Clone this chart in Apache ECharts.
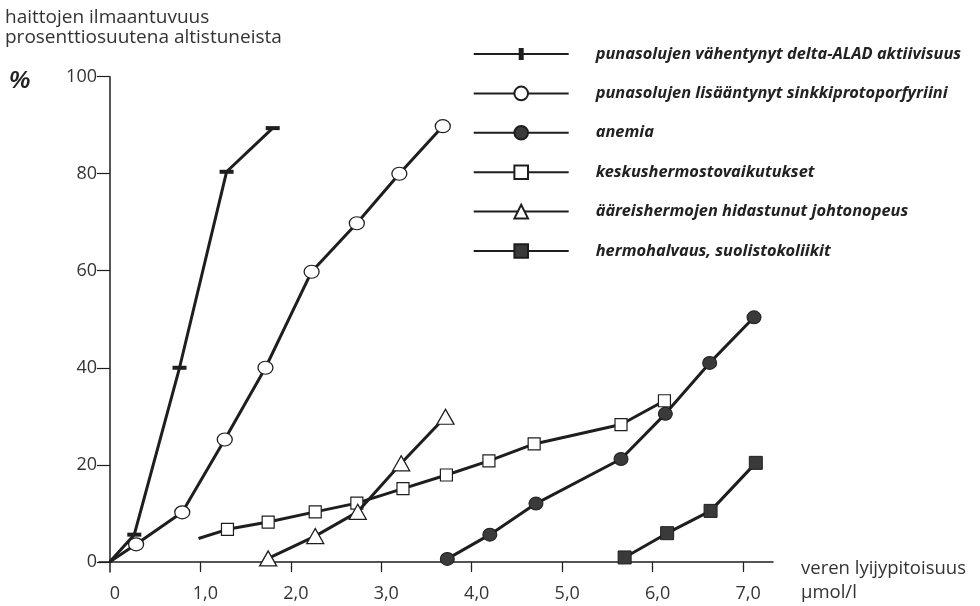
<!DOCTYPE html>
<html>
<head>
<meta charset="utf-8">
<script src="https://cdn.jsdelivr.net/npm/echarts@6/dist/echarts.min.js"></script>
<style>html,body{margin:0;padding:0;background:#fff}#c{width:980px;height:606px}</style>
</head>
<body>
<div id="c"></div>
<script>
// ---- data ----
const xTickValues = [0, 1, 2, 3, 4, 5, 6, 7];
const xTickLabels = ['0', '1,0', '2,0', '3,0', '4,0', '5,0', '6,0', '7,0'];
const yTickValues = [0, 20, 40, 60, 80, 100];
const yTickLabels = ['0', '20', '40', '60', '80', '100'];

const seriesNames = [
  'punasolujen vähentynyt delta-ALAD aktiivisuus',
  'punasolujen lisääntynyt sinkkiprotoporfyriini',
  'anemia',
  'keskushermostovaikutukset',
  'ääreishermojen hidastunut johtonopeus',
  'hermohalvaus, suolistokoliikit'
];
// [blood lead µmol/l, % affected]
const aladData = [[0, 0], [0.27, 5.6], [0.77, 40], [1.29, 80.4], [1.80, 89.4]];
const zppData = [[0, 0], [0.29, 3.6], [0.80, 10.2], [1.27, 25.2], [1.72, 40], [2.23, 59.8], [2.73, 69.8], [3.20, 80], [3.68, 89.8]];
const anemiaData = [[3.73, 0.6], [4.20, 5.6], [4.71, 12], [5.65, 21.2], [6.14, 30.5], [6.63, 41], [7.12, 50.4]];
const cnsData = [[0.98, 4.8], [1.30, 6.7], [1.75, 8.2], [2.27, 10.3], [2.73, 12.1], [3.24, 15.1], [3.72, 17.9], [4.19, 20.8], [4.69, 24.3], [5.65, 28.3], [6.13, 33.2]];
const peripheralData = [[1.75, 0.7], [2.27, 5.3], [2.74, 10.3], [3.22, 20.3], [3.71, 29.9]];
const paralysisData = [[5.69, 0.9], [6.16, 5.9], [6.64, 10.5], [7.14, 20.4]];
// first point drawn without a marker (line start only)
const unmarkedFirst = [true, true, false, true, false, false];

// ---- styles ----
const INK = '#1e1e1e';
const FILL_DARK = '#3a3a3a';
const tickFont = "'Open Sans', 'DejaVu Sans', sans-serif";

// pick a narrow bold-italic face for the legend whose size fits the reference width
function pickLegendFont() {
  const ctx = document.createElement('canvas').getContext('2d');
  const sample = seriesNames[0];
  const targetWidth = 366, targetSize = 18.5;
  const families = ["'Noto Sans'", "'Liberation Sans'", "'DejaVu Sans'"];
  const stretches = ['', 'semi-condensed ', 'condensed ', 'extra-condensed '];
  let best = null;
  families.forEach(f => stretches.forEach(s => {
    ctx.font = 'italic bold ' + s + '18px ' + f;
    const w = ctx.measureText(sample).width;
    const size = 18 * targetWidth / w;
    const score = Math.abs(size - targetSize);
    if (!best || score < best.score - 0.05) best = {family: f, stretch: s, size: size, score: score};
  }));
  return best;
}
const lf = pickLegendFont();

const allData = [aladData, zppData, anemiaData, cnsData, peripheralData, paralysisData];
const symbols = [
  {symbol: 'rect', size: [14, 4], fill: INK, bw: 0},
  {symbol: 'circle', size: [15, 13], fill: '#fff', bw: 1.2},
  {symbol: 'circle', size: [14, 13], fill: FILL_DARK, bw: 1},
  {symbol: 'rect', size: [12, 12], fill: '#fff', bw: 1.2},
  {symbol: 'triangle', size: [17, 15], fill: '#fff', bw: 1.3},
  {symbol: 'rect', size: [13, 13], fill: FILL_DARK, bw: 1}
];

function buildData(arr, skipFirst) {
  return arr.map((p, i) => (i === 0 && skipFirst) ? {value: p, symbol: 'none'} : {value: p});
}

const series = seriesNames.map((name, i) => ({
  name: name,
  type: 'line',
  xAxisIndex: 0,
  yAxisIndex: 0,
  data: buildData(allData[i], unmarkedFirst[i]),
  symbol: symbols[i].symbol,
  symbolSize: symbols[i].size,
  symbolKeepAspect: false,
  showSymbol: true,
  lineStyle: {color: INK, width: 3},
  itemStyle: {color: symbols[i].fill, borderColor: INK, borderWidth: symbols[i].bw},
  emphasis: {disabled: true},
  z: 2 + i,
  animation: false
}));

const legendData = seriesNames.map((name, i) => i === 0
  ? {name: name, icon: 'path://M0,7.5H95V9.5H0Z M45,2.5H50V14.5H45Z'}
  : {name: name});

const chart = echarts.init(document.getElementById('c'), null, {renderer: 'canvas'});
chart.setOption({
  animation: false,
  backgroundColor: '#fff',
  grid: {left: 99, right: 207, top: 76.7, bottom: 34, containLabel: false},
  xAxis: [{
    type: 'value', position: 'bottom', min: -0.12, max: 7.33,
    axisLine: {onZero: true, lineStyle: {color: INK, width: 1.5}},
    axisTick: {show: true, length: 7, customValues: xTickValues.slice(1), lineStyle: {color: INK, width: 1.2}},
    axisLabel: {
      customValues: xTickValues, margin: 13, color: '#333', fontSize: 18, fontFamily: tickFont,
      padding: [0, 0, 0, 10],
      formatter: v => { const k = xTickValues.indexOf(Math.round(v)); return k >= 0 ? xTickLabels[k] : ''; }
    },
    splitLine: {show: false}
  }, {
    type: 'value', position: 'bottom', min: -0.12, max: 7.33,
    axisLine: {show: false, onZero: true},
    axisTick: {show: true, inside: true, length: 6, customValues: xTickValues.slice(1), lineStyle: {color: INK, width: 1.2}},
    axisLabel: {show: false},
    splitLine: {show: false}
  }],
  yAxis: [{
    type: 'value', min: -2.1, max: 100,
    axisLine: {show: true, onZero: true, lineStyle: {color: INK, width: 1.5}},
    axisTick: {show: true, length: 13, customValues: yTickValues, lineStyle: {color: INK, width: 1.2}},
    axisLabel: {
      customValues: yTickValues, margin: 2, color: '#333', fontSize: 18, fontFamily: tickFont,
      formatter: v => { const k = yTickValues.indexOf(Math.round(v)); return k >= 0 ? yTickLabels[k] : ''; }
    },
    splitLine: {show: false}
  }],
  legend: {
    orient: 'vertical', left: 467.7, top: 40.5,
    itemWidth: 95, itemHeight: 17, itemGap: 22.4,
    selectedMode: false,
    data: legendData,
    lineStyle: {width: 2},
    textStyle: {
      fontFamily: lf.family, fontStyle: 'italic', fontWeight: ('bold ' + lf.stretch).trim(),
      fontSize: Math.round(lf.size * 10) / 10,
      color: '#222', lineHeight: 17, padding: [0, 0, 0, 22]
    }
  },
  graphic: [
    {type: 'text', left: 5, top: 8, style: {
      text: 'haittojen ilmaantuvuus\nprosenttiosuutena altistuneista',
      font: "19px 'Open Sans', sans-serif", lineHeight: 20, fill: '#333'}},
    {type: 'text', left: 9, top: 69, style: {
      text: '%', font: "italic bold 24px 'Liberation Sans', sans-serif", fill: '#222'}},
    {type: 'text', left: 801, top: 557, style: {
      text: 'veren lyijypitoisuus\nµmol/l',
      font: "18.5px 'Open Sans', sans-serif", lineHeight: 24, fill: '#333'}}
  ],
  series: series
});
</script>
</body>
</html>
